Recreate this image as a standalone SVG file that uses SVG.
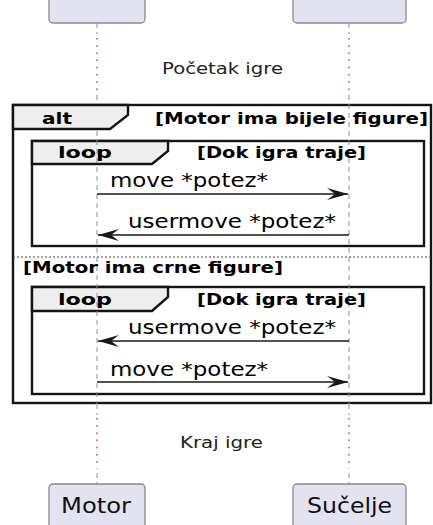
<svg xmlns="http://www.w3.org/2000/svg" width="433" height="525" viewBox="0 0 433 525">
<style>
text{font-family:"DejaVu Sans","Liberation Sans",sans-serif;fill:#000}
.msg{font-size:19.5px}
.dl{font-size:16.5px;fill:#222}
.b{font-size:16.5px;font-weight:bold}
.pt{font-size:21px;fill:#111}
.part{fill:#E2E2F0;stroke:#8a8a8a;stroke-width:1.3}
.life{stroke:#8c8c8c;stroke-width:1;stroke-dasharray:5,4;fill:none}
.dot{stroke:#c0406a;stroke-width:1.5;stroke-dasharray:1.5,5.7;fill:none}
.frame{fill:none;stroke:#141414;stroke-width:2.4}
.tab{fill:#EEEEEE;stroke:#141414;stroke-width:2.4}
.sep{stroke:#444;stroke-width:1;stroke-dasharray:2,2;fill:none}
.arr{stroke:#181818;stroke-width:1.5;fill:none}
</style>
<defs>
<marker id="ah" markerUnits="userSpaceOnUse" markerWidth="23" markerHeight="14" refX="21" refY="7" orient="auto">
<path d="M0,1 L21,7 L0,13 L8,7 Z" fill="#181818"/>
</marker>
</defs>

<g id="frames">
<rect class="frame" x="13" y="105" width="418" height="298"/>
<line class="sep" x1="13" y1="257" x2="431" y2="257"/>
<rect class="frame" x="32" y="141" width="392" height="105"/>
<path class="tab" d="M32,141 H168 V151 L152,164 H32 Z"/>
<rect class="frame" x="32" y="287" width="392" height="107"/>
<path class="tab" d="M32,287 H168 V297 L152,311 H32 Z"/>
</g>

<g id="lifelines">
<line class="life" x1="97" y1="23" x2="97" y2="34"/>
<line class="dot" x1="97" y1="38" x2="97" y2="92"/>
<line class="life" x1="97" y1="95" x2="97" y2="484"/>
<line class="life" x1="349" y1="23" x2="349" y2="34"/>
<line class="dot" x1="349" y1="38" x2="349" y2="92"/>
<line class="life" x1="349" y1="95" x2="349" y2="484"/>
<line x1="97" y1="404" x2="97" y2="416" stroke="#fff" stroke-width="3"/>
<line x1="349" y1="404" x2="349" y2="416" stroke="#fff" stroke-width="3"/>
<line class="life" x1="97" y1="404" x2="97" y2="415"/>
<line class="life" x1="349" y1="404" x2="349" y2="415"/>
<line x1="97" y1="417" x2="97" y2="469" stroke="#fff" stroke-width="3"/>
<line x1="349" y1="417" x2="349" y2="469" stroke="#fff" stroke-width="3"/>
<line class="dot" x1="97" y1="418" x2="97" y2="469"/>
<line class="dot" x1="349" y1="418" x2="349" y2="469"/>
</g>

<g id="alt-tab">
<path class="tab" d="M13,105 H128 V115 L110,129 H13 Z"/>
<text class="b" x="42" y="124" textLength="30" lengthAdjust="spacingAndGlyphs">alt</text>
<text class="b" x="155" y="124" textLength="273" lengthAdjust="spacingAndGlyphs">[Motor ima bijele figure]</text>
<text class="b" x="23" y="273" textLength="260" lengthAdjust="spacingAndGlyphs">[Motor ima crne figure]</text>
</g>

<g id="loop-labels">
<text class="b" x="58" y="157.5" textLength="54" lengthAdjust="spacingAndGlyphs">loop</text>
<text class="b" x="197" y="157.5" textLength="169" lengthAdjust="spacingAndGlyphs">[Dok igra traje]</text>
<text class="b" x="58" y="305" textLength="54" lengthAdjust="spacingAndGlyphs">loop</text>
<text class="b" x="197" y="305" textLength="169" lengthAdjust="spacingAndGlyphs">[Dok igra traje]</text>
</g>

<g id="delays">
<text class="dl" x="162" y="74" textLength="121" lengthAdjust="spacingAndGlyphs">Početak igre</text>
<text class="dl" x="180" y="448" textLength="83" lengthAdjust="spacingAndGlyphs">Kraj igre</text>
</g>

<g id="connectors">
<line class="arr" x1="97" y1="194" x2="348" y2="194" marker-end="url(#ah)"/>
<text class="msg" x="110" y="187" textLength="158" lengthAdjust="spacingAndGlyphs">move *potez*</text>
<line class="arr" x1="349" y1="235" x2="98" y2="235" marker-end="url(#ah)"/>
<text class="msg" x="128" y="228" textLength="208" lengthAdjust="spacingAndGlyphs">usermove *potez*</text>
<line class="arr" x1="349" y1="341" x2="98" y2="341" marker-end="url(#ah)"/>
<text class="msg" x="128" y="334" textLength="208" lengthAdjust="spacingAndGlyphs">usermove *potez*</text>
<line class="arr" x1="97" y1="382" x2="348" y2="382" marker-end="url(#ah)"/>
<text class="msg" x="110" y="376" textLength="158" lengthAdjust="spacingAndGlyphs">move *potez*</text>
</g>

<g id="motor-top">
<rect class="part" x="49" y="-22" width="96" height="45" rx="4"/>
</g>
<g id="sucelje-top">
<rect class="part" x="293" y="-22" width="113" height="45" rx="4"/>
</g>
<g id="motor-bottom">
<rect class="part" x="49" y="484" width="96" height="50" rx="4"/>
<text class="pt" x="61" y="513" textLength="70" lengthAdjust="spacingAndGlyphs">Motor</text>
</g>
<g id="sucelje-bottom">
<rect class="part" x="293" y="484" width="113" height="50" rx="4"/>
<text class="pt" x="307" y="513" textLength="85" lengthAdjust="spacingAndGlyphs">Sučelje</text>
</g>
</svg>
